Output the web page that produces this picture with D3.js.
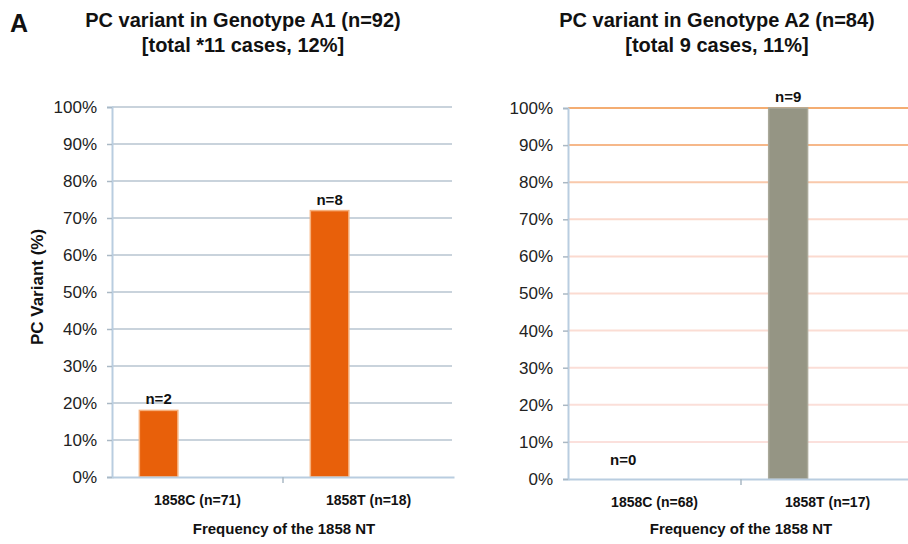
<!DOCTYPE html>
<html><head><meta charset="utf-8">
<script src="https://cdn.jsdelivr.net/npm/d3@7"></script>
<style>body{margin:0;background:#fff}svg{display:block}text{font-family:Arial,"Liberation Sans",sans-serif}</style>
</head><body>
<svg id="c" width="908" height="544"></svg>
<script>
const categoriesA1 = ["1858C (n=71)", "1858T (n=18)"];
const valuesA1 = [18, 72];
const countLabelsA1 = ["n=2", "n=8"];
const categoriesA2 = ["1858C (n=68)", "1858T (n=17)"];
const valuesA2 = [0, 100];
const countLabelsA2 = ["n=0", "n=9"];
const yTicks = [0,10,20,30,40,50,60,70,80,90,100];
const titlesA1 = ["PC variant in Genotype A1 (n=92)", "[total *11 cases, 12%]"];
const titlesA2 = ["PC variant in Genotype A2 (n=84)", "[total 9 cases, 11%]"];
const xTitle = "Frequency of the 1858 NT";
const yTitle = "PC Variant (%)";

const svg = d3.select("#c");
const F = 'Arial,"Liberation Sans",sans-serif';

function panel(o){
  const x = d3.scaleBand().domain(o.cats).range([o.x0, o.x1]).padding(0);
  const y = d3.scaleLinear().domain([0,100]).range([o.y0, o.y1]);
  const g = svg.append("g");
  g.selectAll("line.grid").data(yTicks.filter(t=>t>0)).join("line")
    .attr("x1", o.x0).attr("x2", o.gridEnd)
    .attr("y1", d=>y(d)).attr("y2", d=>y(d))
    .attr("stroke", d=>o.gridColor(d)).attr("stroke-width", 2);
  const bw = x.bandwidth();
  const rows = o.vals.map((v,i)=>({c:o.cats[i], v, l:o.labels[i]}));
  g.selectAll("rect.bar").data(rows).join("rect")
    .attr("x", d=>x(d.c)+bw*0.16).attr("width", bw*0.225)
    .attr("y", d=>y(d.v)).attr("height", d=>y(0)-y(d.v))
    .attr("fill", o.barColor).attr("stroke", o.barStroke).attr("stroke-width", 1.5)
    .attr("display", d=>d.v>0?null:"none");
  g.selectAll("text.cnt").data(rows).join("text")
    .attr("x", d=>x(d.c)+bw*0.2725 + (d.v===0?8:0))
    .attr("y", d=> d.v===0 ? y(0)-14 : y(d.v)-6)
    .attr("text-anchor","middle").attr("font-weight","bold").attr("font-size",15)
    .attr("fill","#111").text(d=>d.l);
  const ya = g.append("g").attr("transform",`translate(${o.x0},0)`)
    .call(d3.axisLeft(y).tickValues(yTicks).tickFormat(d=>d+"%").tickSize(5).tickPadding(10));
  ya.select(".domain").attr("stroke","#b9cde0").attr("stroke-width",2);
  ya.selectAll(".tick line").attr("stroke","#aab8c4").attr("stroke-width",1.5);
  ya.selectAll(".tick text").attr("font-size",17).attr("font-family",F).attr("fill","#222");
  const xa = g.append("g").attr("transform",`translate(0,${o.y0})`)
    .call(d3.axisBottom(x).tickSize(0).tickPadding(18));
  xa.select(".domain").attr("stroke","#b9cde0").attr("stroke-width",2);
  xa.selectAll(".tick text").attr("font-size",14).attr("font-weight","bold").attr("font-family",F).attr("fill","#111");
  g.selectAll("line.div").data(o.cats.slice(1)).join("line")
    .attr("x1", d=>x(d)).attr("x2", d=>x(d)).attr("y1", o.y0).attr("y2", o.y0+6)
    .attr("stroke","#aab8c4").attr("stroke-width",1.5);
  g.selectAll("text.title").data(o.titles).join("text")
    .attr("x", o.titleX).attr("y",(d,i)=>27+i*25).attr("text-anchor","middle")
    .attr("font-weight","bold").attr("font-size",20).attr("fill","#111").text(d=>d);
  g.append("text").attr("x", o.xTitleX).attr("y", 534).attr("text-anchor","middle")
    .attr("font-weight","bold").attr("font-size",15).attr("fill","#111").text(xTitle);
}

panel({cats:categoriesA1, vals:valuesA1, labels:countLabelsA1, titles:titlesA1,
  x0:112, x1:454, gridEnd:452, y0:477, y1:107, titleX:243, xTitleX:284,
  barColor:"#e8600a", barStroke:"#f6b07c",
  gridColor:()=> "#c9d3dc"});

const orangeScale = d3.scaleLinear().domain([10,70,90,100]).range(["#fbe0dc","#fbd9cc","#f6b88a","#f4ad72"]);
panel({cats:categoriesA2, vals:valuesA2, labels:countLabelsA2, titles:titlesA2,
  x0:568, x1:914, gridEnd:908, y0:479, y1:108, titleX:717, xTitleX:741,
  barColor:"#959584", barStroke:"#aaa99a",
  gridColor:d=>orangeScale(d)});

svg.append("text").attr("x",10).attr("y",32).attr("font-weight","bold").attr("font-size",25).attr("fill","#111").text("A");
svg.append("text").attr("transform","translate(43,287) rotate(-90)").attr("text-anchor","middle")
  .attr("font-weight","bold").attr("font-size",17).attr("fill","#111").text(yTitle);
</script>
</body></html>
